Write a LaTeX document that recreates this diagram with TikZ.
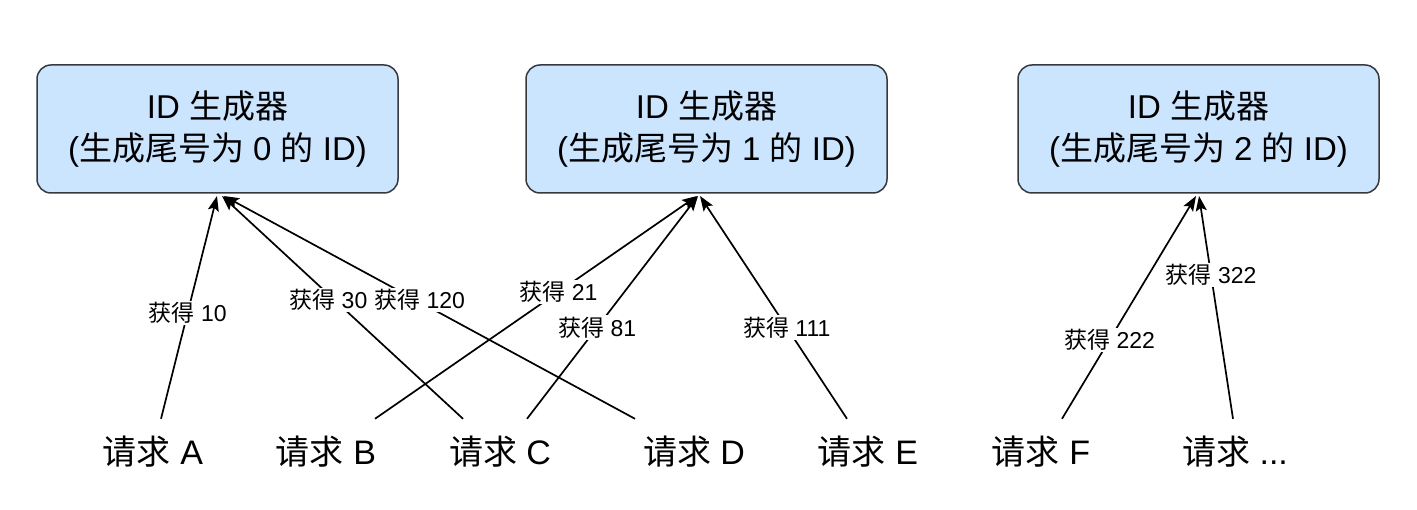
\documentclass[tikz,border=0pt]{standalone}
\usepackage{fontspec}
\setmainfont{Liberation Sans}
\newfontfamily\zhfont{Noto Sans CJK SC}
\newcommand\zh[1]{{\zhfont #1}}
\usetikzlibrary{arrows.meta}
\definecolor{boxfill}{HTML}{CCE5FF}
\definecolor{boxline}{HTML}{36393D}
\begin{document}
\begin{tikzpicture}[x=1pt,y=-1pt,
  genbox/.style={draw=boxline,fill=boxfill,line width=1.5pt,rounded corners=14pt,
    minimum width=361pt,minimum height=128pt,align=center,
    font=\fontsize{33}{42}\selectfont},
  reqnode/.style={minimum height=66pt,inner sep=0pt,font=\fontsize{34}{40}\selectfont},
  conn/.style={line width=1.7pt,-{Stealth[length=15pt,width=11pt,inset=3pt]}},
  lbl/.style={fill=white,inner xsep=0.5pt,inner ysep=1.5pt,font=\fontsize{23}{27}\selectfont}]
\useasboundingbox (0,0) rectangle (1417,510);

% generators
\node[genbox] (g0) at (217.5,129) {ID \zh{生成器}\\(\zh{生成尾号为} 0 \zh{的} ID)};
\node[genbox] (g1) at (706.5,129) {ID \zh{生成器}\\(\zh{生成尾号为} 1 \zh{的} ID)};
\node[genbox] (g2) at (1198.5,129) {ID \zh{生成器}\\(\zh{生成尾号为} 2 \zh{的} ID)};

% arrow end points under the generators
\coordinate (t0a) at (217,196);
\coordinate (t0b) at (222,196);
\coordinate (t0c) at (224,196);
\coordinate (t1a) at (697,196);
\coordinate (t1b) at (698,196);
\coordinate (t1c) at (700,196);
\coordinate (t2a) at (1196,196);
\coordinate (t2b) at (1199,196);

% requests
\node[reqnode] (ra) at (153,452) {\zh{请求} A};
\node[reqnode] (rb) at (326,452) {\zh{请求} B};
\node[reqnode] (rc) at (500,452) {\zh{请求} C};
\node[reqnode] (rd) at (694,452) {\zh{请求} D};
\node[reqnode] (re) at (868,452) {\zh{请求} E};
\node[reqnode] (rf) at (1041,452) {\zh{请求} F};
\node[reqnode] (rx) at (1235,452) {\zh{请求} ...};

% connectors
\draw[conn] ([xshift=8pt]ra.north) -- node[lbl,pos=.475] {\zh{获得} 10} (t0a);
\draw[conn] ([xshift=-37pt]rc.north) -- node[lbl,pos=.534,xshift=-6pt] {\zh{获得} 30} (t0b);
\draw[conn] ([xshift=-59pt]rd.north) -- node[lbl,pos=.534,xshift=4pt] {\zh{获得} 120} (t0c);
\draw[conn] ([xshift=49pt]rb.north) -- node[lbl,pos=.57] {\zh{获得} 21} (t1a);
\draw[conn] ([xshift=27pt]rc.north) -- node[lbl,pos=.41] {\zh{获得} 81} (t1b);
\draw[conn] ([xshift=-21pt]re.north) -- node[lbl,pos=.41] {\zh{获得} 111} (t1c);
\draw[conn] ([xshift=21pt]rf.north) -- node[lbl,pos=.355] {\zh{获得} 222} (t2a);
\draw[conn] ([xshift=-2pt]rx.north) -- node[lbl,pos=.645] {\zh{获得} 322} (t2b);
\end{tikzpicture}
\end{document}
